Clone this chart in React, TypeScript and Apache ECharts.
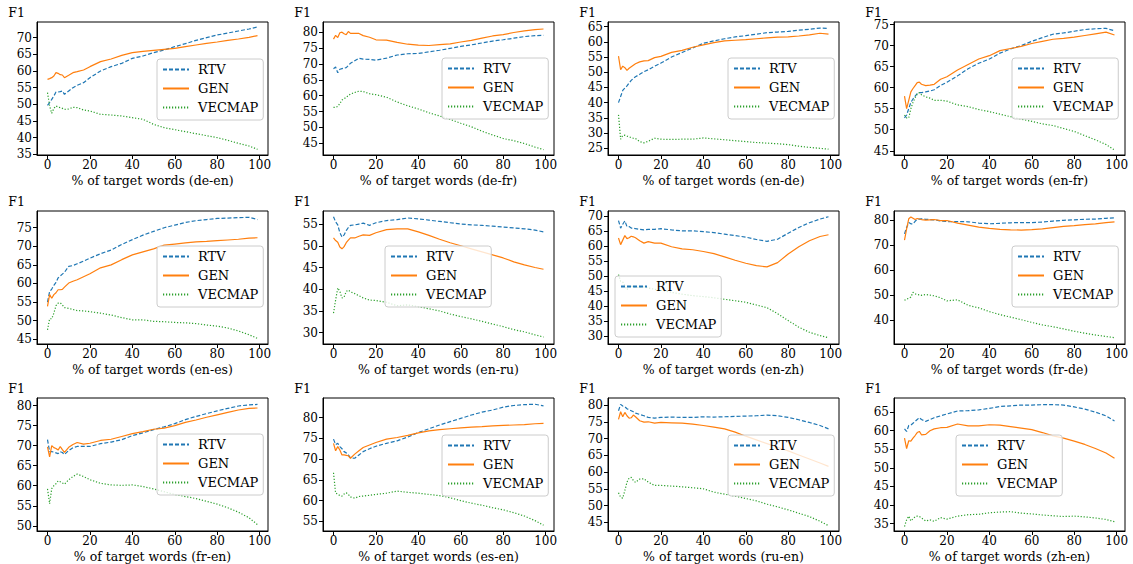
import React, { useEffect, useRef } from "react";
import * as echarts from "echarts";

// Shared x positions (% of target words)
const X = [0, 1, 2, 3, 4, 5, 6, 7, 8, 10, 12, 14, 17, 20, 25, 30, 35, 40, 45, 50, 55, 60, 65, 70, 75, 80, 85, 90, 95, 99];
const X_TICKS = [0, 20, 40, 60, 80, 100];
const SERIES_NAMES = ["RTV", "GEN", "VECMAP"];
const PAIRS = ["de-en", "de-fr", "en-de", "en-fr", "en-es", "en-ru", "en-zh", "fr-de", "fr-en", "es-en", "ru-en", "zh-en"];

// de-en
const deEnRTV = [49.7, 50.5, 51.5, 52.5, 53.7, 53.7, 53.8, 54, 53, 54, 55, 55.7, 56.5, 58, 60, 61.3, 62.3, 63.8, 64.5, 65.5, 66.3, 67.3, 68.2, 69.2, 70, 70.8, 71.4, 72, 72.6, 73.2];
const deEnGEN = [57.5, 57.7, 58, 58.5, 59.5, 59.3, 58.9, 58.8, 58, 58.7, 59.5, 59.8, 60.3, 61.3, 62.8, 63.6, 64.7, 65.5, 65.9, 66.2, 66.5, 66.8, 67.3, 67.8, 68.3, 68.7, 69.2, 69.6, 70.1, 70.6];
const deEnVEC = [53.5, 49.5, 47.3, 48.8, 49.5, 49.2, 49, 48.8, 48.5, 48.6, 49.1, 49, 48.3, 48, 47, 46.8, 46.5, 46, 45.5, 44, 43, 42.4, 41.8, 41.2, 40.6, 40, 39.2, 38.3, 37.5, 36.5];
// de-fr
const deFrRTV = [68.5, 69, 67.2, 68.3, 68.5, 68.7, 68.8, 69.5, 70.2, 71, 71.8, 71.5, 71.4, 71.2, 71.8, 72.8, 73.2, 73.3, 73.8, 74.3, 74.9, 75.5, 76, 76.6, 77.2, 77.6, 78.1, 78.6, 78.9, 79];
const deFrGEN = [77.8, 79, 78.3, 79.8, 80, 79.5, 79.2, 80.2, 79.6, 79.6, 79.6, 78.9, 78.4, 77.6, 77.5, 76.8, 76.2, 75.9, 75.8, 76.1, 76.3, 76.9, 77.4, 78.1, 78.8, 79.2, 79.9, 80.4, 80.8, 81];
const deFrVEC = [56.3, 56.3, 56.6, 57.5, 58.6, 59, 59.5, 60, 60.5, 61, 61.4, 61.3, 60.6, 60.3, 59.5, 58, 56.8, 55.8, 54.6, 53.6, 52.5, 51.3, 50.2, 48.8, 47.6, 46.5, 45.8, 44.9, 43.8, 43];
// en-de
const enDeRTV = [40, 42, 44, 44.8, 45.5, 46.5, 47.3, 48, 48.5, 49.3, 50.2, 50.8, 52, 53, 55, 56.5, 58, 59.5, 60.3, 61, 61.6, 62, 62.5, 63, 63.2, 63.4, 63.8, 64.1, 64.5, 64.4];
const enDeGEN = [55.3, 50.8, 52, 51.5, 50.6, 51.3, 51.8, 52.3, 52.8, 53.4, 53.7, 53.8, 54.8, 55.2, 56.5, 57.2, 58.2, 59, 59.7, 60.3, 60.5, 60.7, 61, 61.3, 61.5, 61.6, 61.9, 62.3, 62.8, 62.5];
const enDeVEC = [36, 28, 29.2, 29.3, 29, 28.8, 28.5, 28.3, 28.2, 27.2, 26.8, 27.3, 28.3, 28, 27.9, 28, 28, 28.4, 28.1, 27.8, 27.5, 27.2, 26.9, 26.7, 26.5, 26.2, 25.7, 25.3, 25, 24.7];
// en-fr
const enFrRTV = [52.8, 53.5, 55, 56.5, 57.3, 58, 58.6, 58.8, 58.8, 59, 59.2, 59.5, 60.5, 61.3, 62.8, 64.5, 65.8, 66.8, 68.2, 69.2, 70, 71, 71.9, 72.7, 73, 73.4, 73.8, 74, 74.1, 73.5];
const enFrGEN = [58, 55, 57, 59, 59.8, 60.5, 61.2, 61.3, 60.8, 60.5, 60.6, 60.8, 62, 62.6, 64.2, 65.5, 66.8, 67.6, 68.8, 69.3, 69.8, 70.5, 71, 71.5, 71.7, 72, 72.4, 72.8, 73.2, 72.5];
const enFrVEC = [53.5, 52.8, 52.8, 55, 56.5, 57.6, 58.5, 58.8, 58.3, 57.8, 57.5, 57, 57, 56.8, 55.9, 55.5, 54.8, 54.3, 53.7, 53.1, 52.5, 52, 51.4, 51, 50.3, 49.6, 48.6, 47.6, 46.5, 45.2];
// en-es
const enEsRTV = [55, 57.8, 58.5, 59.5, 60.3, 61.5, 62, 62.5, 63, 64.6, 64.8, 65.3, 66, 66.8, 68, 69, 70.5, 71.8, 73, 74, 75, 75.7, 76.4, 76.9, 77.2, 77.5, 77.6, 77.7, 77.8, 77.2];
const enEsGEN = [53.8, 57, 56, 57, 57.5, 58.3, 58.3, 58.4, 59, 60.1, 60.6, 61, 61.8, 62.6, 64.2, 65, 66.4, 67.7, 68.5, 69.3, 70.3, 70.6, 70.9, 71.2, 71.3, 71.5, 71.7, 71.9, 72.2, 72.3];
const enEsVEC = [47.5, 50.5, 50.5, 52, 54, 54.7, 54.8, 54.2, 53.5, 53.3, 53, 52.7, 52.6, 52.4, 52, 51.5, 50.8, 50.2, 50.2, 49.8, 49.7, 49.5, 49.4, 49.2, 48.8, 48.5, 48, 47.2, 46.2, 45.2];
// en-ru
const enRuRTV = [56.7, 55.5, 54.8, 53, 52, 52.5, 53.5, 54.2, 54.7, 54.8, 55, 55.2, 54.7, 55.3, 55.8, 56, 56.4, 56.2, 55.9, 55.6, 55.3, 55, 54.8, 54.7, 54.5, 54.3, 54.1, 53.9, 53.6, 53.2];
const enRuGEN = [51.8, 51.2, 50.8, 49.7, 49.3, 49.8, 50.7, 51.3, 51.8, 51.8, 52.2, 52.5, 52.4, 53, 53.7, 53.9, 53.9, 53.2, 52.4, 51.5, 50.7, 50, 49.3, 48.6, 47.9, 47.2, 46.3, 45.6, 45, 44.6];
const enRuVEC = [34.5, 37.5, 40.3, 39.5, 38, 38.2, 39.5, 39.8, 39.4, 39, 38.5, 38, 37.5, 37.4, 37, 36.2, 36.4, 36, 35.5, 35, 34.3, 33.7, 33.2, 32.6, 32, 31.4, 30.7, 30.2, 29.5, 29];
// en-zh
const enZhRTV = [68.5, 66, 67.3, 68.4, 66.5, 66.5, 66, 66, 65.8, 65.6, 65.4, 65.6, 65.6, 65.8, 65.4, 65.1, 65.1, 64.8, 64.5, 64, 63.5, 63, 62.2, 61.6, 62.3, 64.3, 66.2, 67.8, 69, 69.8];
const enZhGEN = [62.7, 60.5, 62, 63.5, 62.5, 62.8, 63.3, 63.1, 62.8, 61.8, 61, 61.5, 61, 61, 59.8, 59.1, 58.8, 58.2, 57.5, 56.4, 55.3, 54.3, 53.5, 53.1, 54.5, 57.4, 59.8, 61.8, 63.2, 63.8];
const enZhVEC = [50.5, 48.3, 48, 46.8, 45.5, 46.5, 46.7, 46.4, 46.2, 46.3, 46.4, 46.1, 45.6, 45.3, 44.6, 44, 43.5, 43.2, 42.8, 42.3, 41.8, 41.3, 40.4, 39.5, 37.5, 35.2, 33, 31.3, 30.2, 29.5];
// fr-de
const frDeRTV = [74.5, 77, 79, 78.5, 78.5, 79.5, 80.3, 80.4, 80.5, 80.3, 80.2, 80.1, 79.6, 79.4, 79.4, 79.3, 78.8, 78.5, 78.7, 78.9, 79, 79, 79.2, 79.6, 79.9, 80.1, 80.3, 80.4, 80.7, 80.9];
const frDeGEN = [72, 76.5, 80.5, 81.2, 80.7, 80.2, 80.6, 80.4, 80.2, 80, 80.1, 80.2, 79.8, 79.8, 78.8, 78, 77.2, 76.7, 76.3, 76.1, 76, 76.2, 76.5, 77, 77.5, 77.8, 78.2, 78.5, 79, 79.3];
const frDeVEC = [48, 48.5, 48.8, 49.3, 51.2, 50.6, 50.3, 50.2, 50, 50.3, 50.1, 49.8, 49, 47.8, 48.2, 46, 45, 43.5, 42.3, 41.3, 40.3, 39.2, 38.2, 37.5, 36.6, 35.7, 34.9, 34.2, 33.6, 33.1];
// fr-en
const frEnRTV = [71.5, 68.5, 68.5, 68.4, 68.2, 68, 68.5, 68.3, 67.8, 68.8, 69.5, 69.8, 69.8, 69.8, 70.5, 70.9, 71.5, 72.5, 73.2, 74, 74.7, 75.5, 76.5, 77.3, 78, 78.7, 79.3, 79.9, 80.2, 80.3];
const frEnGEN = [69.7, 67.2, 70, 69.5, 69.3, 68.9, 69.8, 69, 68.3, 69.6, 70.3, 70.8, 70.4, 70.6, 71.3, 71.6, 72.3, 73, 73.5, 74.1, 74.4, 75, 75.8, 76.4, 77.1, 77.7, 78.3, 78.9, 79.3, 79.4];
const frEnVEC = [59.2, 55.5, 59.3, 60, 60.5, 61.2, 61, 60.7, 60.4, 61.5, 62.3, 62.9, 62.3, 61.5, 60.6, 60.2, 60.1, 60.2, 59.8, 59.2, 58.5, 57.8, 57.3, 56.8, 56.1, 55.4, 54.5, 53.4, 52, 50.3];
// es-en
const esEnRTV = [74.8, 73.5, 73.8, 73, 72.5, 71.8, 71.5, 71, 70.3, 70.2, 71, 71.8, 72.5, 73.1, 73.8, 74.4, 75.3, 76.4, 77.3, 78.2, 79, 79.8, 80.6, 81.3, 81.8, 82.5, 82.9, 83.1, 83.2, 82.8];
const esEnGEN = [73.8, 72, 73, 72.2, 71, 71, 70.9, 70.8, 70.2, 71.2, 72, 72.8, 73.4, 74, 74.8, 75.2, 75.7, 76.3, 76.8, 77.1, 77.3, 77.5, 77.7, 77.8, 78, 78.1, 78.2, 78.3, 78.5, 78.6];
const esEnVEC = [66.7, 61.8, 61.6, 61.2, 61.1, 61.6, 61.9, 61.5, 60.9, 60.6, 61, 61.1, 61.3, 61.5, 61.8, 62.3, 62, 61.8, 61.5, 61.2, 60.7, 60, 59.4, 58.9, 58.3, 57.8, 57.1, 56.3, 55.2, 54.1];
// ru-en
const ruEnRTV = [78.3, 80.2, 79.7, 79.5, 78.9, 78.6, 78.3, 78, 77.6, 77.2, 76.8, 76.3, 76.1, 76.3, 76.4, 76.3, 76.3, 76.5, 76.4, 76.5, 76.6, 76.7, 76.8, 77, 76.8, 76.3, 75.6, 74.8, 73.9, 72.9];
const ruEnGEN = [75.7, 78, 76.5, 77.8, 76.8, 76.1, 76.2, 77, 76.5, 75.3, 74.9, 75, 74.6, 74.8, 74.7, 74.6, 74.3, 73.9, 73.4, 72.9, 71.9, 70.7, 69.6, 68.5, 67.4, 66.3, 65.1, 63.9, 62.7, 61.7];
const ruEnVEC = [53.8, 52.5, 52.2, 54.5, 57, 58.2, 58.4, 57.5, 56.9, 57.9, 58, 57, 56, 56, 55.8, 55.6, 55.3, 55, 54, 53.4, 52.8, 52.1, 51.4, 50.4, 49.6, 48.7, 47.7, 46.7, 45.3, 44];
// zh-en
const zhEnRTV = [60.5, 59.8, 61.4, 61.5, 62, 62.5, 63, 63.5, 63, 62.5, 63, 63.5, 64, 64.5, 65.3, 65.4, 65.6, 66, 66.5, 66.7, 66.9, 66.9, 67, 67, 66.9, 66.4, 65.8, 65, 64, 62.6];
const zhEnGEN = [58, 55.2, 57.3, 57.2, 58, 58.7, 59.5, 59.8, 58.9, 59, 60, 60.5, 60.8, 60.9, 61.8, 61.3, 61.3, 61.6, 61.5, 61.1, 60.7, 60.3, 59.5, 58.6, 58, 57.2, 56.3, 55.2, 54, 52.6];
const zhEnVEC = [34.2, 36, 37, 35.7, 36.3, 36.8, 37, 36.9, 36.5, 35.7, 36, 35.6, 36.6, 36.2, 37, 37.4, 37.5, 37.9, 38.1, 38.2, 37.8, 37.6, 37.3, 37.1, 36.9, 37, 36.8, 36.5, 36.1, 35.5];

const SERIES_DATA = [
  [deEnRTV, deEnGEN, deEnVEC],
  [deFrRTV, deFrGEN, deFrVEC],
  [enDeRTV, enDeGEN, enDeVEC],
  [enFrRTV, enFrGEN, enFrVEC],
  [enEsRTV, enEsGEN, enEsVEC],
  [enRuRTV, enRuGEN, enRuVEC],
  [enZhRTV, enZhGEN, enZhVEC],
  [frDeRTV, frDeGEN, frDeVEC],
  [frEnRTV, frEnGEN, frEnVEC],
  [esEnRTV, esEnGEN, esEnVEC],
  [ruEnRTV, ruEnGEN, ruEnVEC],
  [zhEnRTV, zhEnGEN, zhEnVEC],
];

// y tick labels per panel
const Y_TICKS = [
  [35, 40, 45, 50, 55, 60, 65, 70],
  [45, 50, 55, 60, 65, 70, 75, 80],
  [25, 30, 35, 40, 45, 50, 55, 60, 65],
  [45, 50, 55, 60, 65, 70, 75],
  [45, 50, 55, 60, 65, 70, 75],
  [30, 35, 40, 45, 50, 55],
  [30, 35, 40, 45, 50, 55, 60, 65, 70],
  [40, 50, 60, 70, 80],
  [50, 55, 60, 65, 70, 75, 80],
  [55, 60, 65, 70, 75, 80],
  [45, 50, 55, 60, 65, 70, 75, 80],
  [35, 40, 45, 50, 55, 60, 65],
];
const Y_RANGE = [
  [34.8, 74.7], [41.3, 83.2], [22.8, 66.5], [44.0, 75.6],
  [43.7, 79.5], [27.4, 58.0], [27.4, 71.7], [30.6, 83.6],
  [48.7, 81.9], [52.7, 84.7], [42.4, 82.1], [33.0, 68.8],
];

// layout
const GRID_LEFT = [37, 323, 608, 894];
const GRID_TOP = [22, 211, 398];
const GRID_W = 231;
const GRID_H = 133;
const LEGEND_POS = [
  [157, 59], [442, 58], [728, 58], [1012, 58],
  [157, 246], [385, 246], [615, 276], [1012, 246],
  [157, 434], [442, 435], [728, 435], [956, 435],
];
const COLORS = ["#1f77b4", "#ff7f0e", "#2ca02c"];
const LINE_TYPES: any[] = [[4, 2], "solid", [1.2, 1.8]];
const FONT = "'DejaVu Serif', 'Liberation Serif', serif";

function buildOption() {
  const grid: any[] = [];
  const xAxis: any[] = [];
  const yAxis: any[] = [];
  const series: any[] = [];
  const legend: any[] = [];
  PAIRS.forEach((pair, i) => {
    const col = i % 4;
    const row = Math.floor(i / 4);
    grid.push({
      left: GRID_LEFT[col], top: GRID_TOP[row], width: GRID_W, height: GRID_H,
      show: true, borderColor: "#000", borderWidth: 1, backgroundColor: "transparent",
      containLabel: false,
    });
    xAxis.push({
      type: "value", gridIndex: i, min: -4.95, max: 103.95,
      axisLine: { show: true, onZero: false, lineStyle: { color: "#000", width: 1 } },
      axisTick: { show: true, length: 4, customValues: X_TICKS, lineStyle: { color: "#000" } },
      axisLabel: { customValues: X_TICKS, color: "#000", fontSize: 12, fontFamily: FONT, margin: 4 },
      splitLine: { show: false },
      name: `% of target words (${pair})`, nameLocation: "middle", nameGap: 19,
      nameTextStyle: { color: "#000", fontSize: 12.5, fontFamily: FONT },
    });
    yAxis.push({
      type: "value", gridIndex: i, min: Y_RANGE[i][0], max: Y_RANGE[i][1],
      axisLine: { show: true, onZero: false, lineStyle: { color: "#000", width: 1 } },
      axisTick: { show: true, length: 4, customValues: Y_TICKS[i], lineStyle: { color: "#000" } },
      axisLabel: { customValues: Y_TICKS[i], color: "#000", fontSize: 12, fontFamily: FONT, margin: 5 },
      splitLine: { show: false },
      name: "F1", nameLocation: "end", nameGap: 3,
      nameTextStyle: { color: "#000", fontSize: 12.5, fontFamily: FONT, align: "right", verticalAlign: "bottom", padding: [0, 12, 0, 0] },
    });
    SERIES_NAMES.forEach((name, k) => {
      series.push({
        type: "line", name, xAxisIndex: i, yAxisIndex: i,
        data: X.map((x, j) => [x, SERIES_DATA[i][k][j]]),
        symbol: "none", showSymbol: false,
        lineStyle: { color: COLORS[k], width: 1.2, type: LINE_TYPES[k] },
        itemStyle: { color: COLORS[k] },
      });
    });
    legend.push({
      data: SERIES_NAMES, orient: "vertical",
      left: LEGEND_POS[i][0], top: LEGEND_POS[i][1],
      itemWidth: 26, itemHeight: 10, itemGap: 6,
      padding: [4, 5, 6, 5],
      itemStyle: { opacity: 0 },
      backgroundColor: "rgba(255,255,255,0.8)", borderColor: "#cccccc", borderWidth: 1, borderRadius: 3,
      textStyle: { color: "#000", fontSize: 13, fontFamily: FONT, padding: [0, 0, 0, 4] },
      selectedMode: false,
    });
  });
  return { animation: false, backgroundColor: "#fff", grid, xAxis, yAxis, series, legend };
}

export default function App() {
  const ref = useRef<HTMLDivElement>(null);
  useEffect(() => {
    if (!ref.current) return;
    const chart = echarts.init(ref.current, null, { renderer: "svg" });
    chart.setOption(buildOption());
    return () => chart.dispose();
  }, []);
  return <div ref={ref} style={{ position: "fixed", left: 0, top: 0, width: 1133, height: 564, background: "#fff" }} />;
}
